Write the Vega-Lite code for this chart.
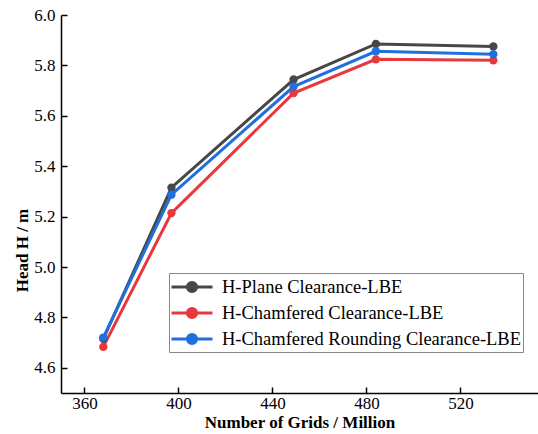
{
  "$schema": "https://vega.github.io/schema/vega-lite/v6.json",
  "width": 477,
  "height": 378,
  "autosize": {"type": "none"},
  "padding": {"left": 61, "top": 15, "right": 0, "bottom": 41},
  "background": "white",
  "config": {
    "view": {"stroke": null},
    "font": "Liberation Serif",
    "axis": {
      "grid": false,
      "domainColor": "black",
      "domainWidth": 1.5,
      "tickColor": "black",
      "tickWidth": 1.5,
      "tickSize": -6,
      "labelFontSize": 17,
      "labelColor": "black",
      "titleFontSize": 17,
      "titleFontWeight": "bold",
      "titleColor": "black"
    }
  },
  "data": {
    "values": [
      {"series": "H-Plane Clearance-LBE", "grids": 368, "head": 4.715},
      {"series": "H-Plane Clearance-LBE", "grids": 397, "head": 5.315},
      {"series": "H-Plane Clearance-LBE", "grids": 449, "head": 5.744},
      {"series": "H-Plane Clearance-LBE", "grids": 484, "head": 5.885},
      {"series": "H-Plane Clearance-LBE", "grids": 534, "head": 5.875},
      {"series": "H-Chamfered Clearance-LBE", "grids": 368, "head": 4.683},
      {"series": "H-Chamfered Clearance-LBE", "grids": 397, "head": 5.214},
      {"series": "H-Chamfered Clearance-LBE", "grids": 449, "head": 5.69},
      {"series": "H-Chamfered Clearance-LBE", "grids": 484, "head": 5.824},
      {"series": "H-Chamfered Clearance-LBE", "grids": 534, "head": 5.82},
      {"series": "H-Chamfered Rounding Clearance-LBE", "grids": 368, "head": 4.72},
      {"series": "H-Chamfered Rounding Clearance-LBE", "grids": 397, "head": 5.287},
      {"series": "H-Chamfered Rounding Clearance-LBE", "grids": 449, "head": 5.716},
      {"series": "H-Chamfered Rounding Clearance-LBE", "grids": 484, "head": 5.856},
      {"series": "H-Chamfered Rounding Clearance-LBE", "grids": 534, "head": 5.844}
    ]
  },
  "encoding": {
    "x": {
      "field": "grids", "type": "quantitative",
      "scale": {"domain": [350, 553], "nice": false, "zero": false},
      "axis": {"values": [360, 400, 440, 480, 520], "title": "Number of Grids / Million", "labelFont": "Liberation Serif", "titleFont": "Liberation Serif", "labelPadding": 8, "titlePadding": 3, "labelFlush": false}
    },
    "y": {
      "field": "head", "type": "quantitative",
      "scale": {"domain": [4.5, 6.0], "nice": false, "zero": false},
      "axis": {"values": [4.6, 4.8, 5.0, 5.2, 5.4, 5.6, 5.8, 6.0], "format": ".1f", "title": "Head H / m", "labelFont": "Liberation Serif", "titleFont": "Liberation Serif", "labelPadding": 12, "titlePadding": 2, "titleY": 235, "labelFlush": false}
    },
    "color": {
      "field": "series", "type": "nominal",
      "scale": {
        "domain": ["H-Plane Clearance-LBE", "H-Chamfered Clearance-LBE", "H-Chamfered Rounding Clearance-LBE"],
        "range": ["#474747", "#e8383d", "#1f6fdc"]
      },
      "legend": {
        "title": null,
        "orient": "none",
        "legendX": 108,
        "legendY": 258,
        "strokeColor": "#888888",
        "fillColor": "white",
        "padding": 2,
        "rowPadding": 3,
        "symbolOffset": 9,
        "labelFont": "Liberation Serif",
        "labelFontSize": 18.5,
        "labelColor": "black",
        "labelLimit": 400,
        "labelOffset": 18,
        "symbolType": "M-2,0L2,0M-0.45,0A0.45,0.45 0 1,1 0.45,0A0.45,0.45 0 1,1 -0.45,0Z",
        "symbolSize": 420,
        "symbolStrokeWidth": 3,
        "encode": {"symbols": {"update": {"fill": {"scale": "color", "field": "value"}}}}
      }
    },
    "order": {"field": "grids", "type": "quantitative"}
  },
  "layer": [
    {"mark": {"type": "line", "strokeWidth": 3}},
    {"mark": {"type": "point", "filled": true, "size": 70, "opacity": 1}}
  ]
}
